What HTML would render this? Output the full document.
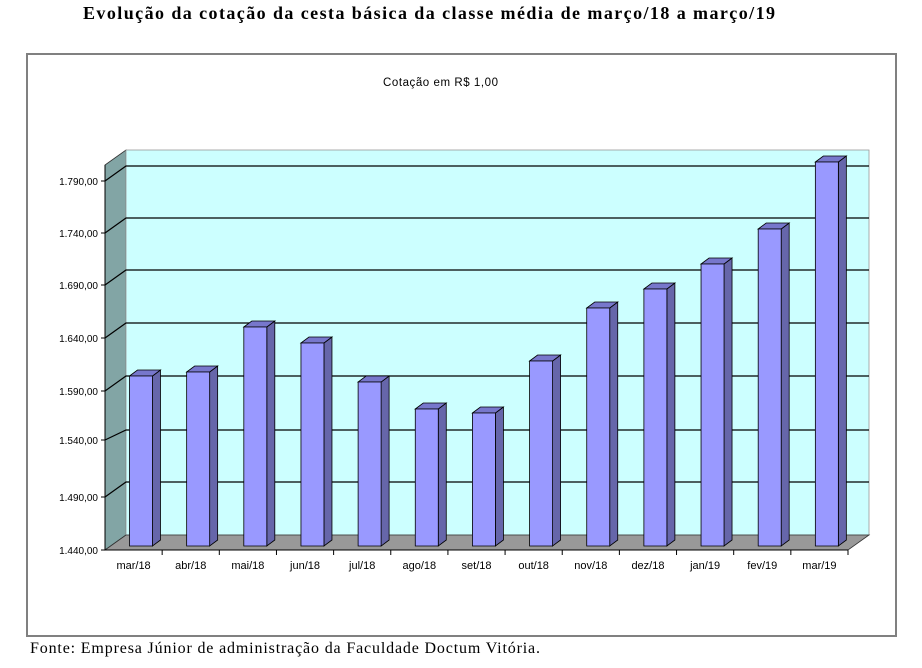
<!DOCTYPE html>
<html><head><meta charset="utf-8"><style>
body{margin:0;background:#fff;width:922px;height:663px;overflow:hidden}
</style></head><body>
<svg width="922" height="663" xmlns="http://www.w3.org/2000/svg">
<text x="83" y="19" textLength="692" lengthAdjust="spacing" font-family="Liberation Serif, serif" font-weight="bold" font-size="18">Evolução da cotação da cesta básica da classe média de março/18 a março/19</text>
<rect x="27" y="54" width="869" height="582" fill="#fff" stroke="#808080" stroke-width="2"/>
<text x="383" y="86" textLength="115" lengthAdjust="spacing" font-family="Liberation Sans, sans-serif" font-size="11.5">Cotação em R$ 1,00</text>
<polygon points="105,165 126,150 126,535 105,550" fill="#82a5a5" stroke="#333" stroke-width="0.8"/>
<rect x="126" y="150" width="743" height="385" fill="#ccffff" stroke="#999" stroke-width="0.8"/>
<polygon points="105,550 126,535 869,535 848,550" fill="#999" stroke="#333" stroke-width="0.8"/>
<g stroke="#000" stroke-width="1.2" fill="none">
<path d="M105,181 L126,166 H869"/>
<path d="M105,233 L126,218 H869"/>
<path d="M105,285 L126,270 H869"/>
<path d="M105,338 L126,323 H869"/>
<path d="M105,391 L126,376 H869"/>
<path d="M105,440 L126,430 H869"/>
<path d="M105,497 L126,482 H869"/>
</g>
<g stroke="#000" stroke-width="1">
<line x1="105" y1="165" x2="105" y2="550"/>
<line x1="105" y1="550" x2="848" y2="550"/>
<line x1="101" y1="181" x2="105" y2="181"/><line x1="101" y1="233" x2="105" y2="233"/>
<line x1="101" y1="285" x2="105" y2="285"/><line x1="101" y1="338" x2="105" y2="338"/>
<line x1="101" y1="391" x2="105" y2="391"/><line x1="101" y1="440" x2="105" y2="440"/>
<line x1="101" y1="497" x2="105" y2="497"/><line x1="101" y1="550" x2="105" y2="550"/>
</g>
<g font-family="Liberation Sans, sans-serif" font-size="10" text-anchor="end">
<text x="98" y="185">1.790,00</text><text x="98" y="237">1.740,00</text>
<text x="98" y="289">1.690,00</text><text x="98" y="342">1.640,00</text>
<text x="98" y="395">1.590,00</text><text x="98" y="444">1.540,00</text>
<text x="98" y="501">1.490,00</text><text x="98" y="554">1.440,00</text>
</g>
<g id="bars" stroke="#000" stroke-width="0.8"></g>
<g id="xl" font-family="Liberation Sans, sans-serif" font-size="11" text-anchor="middle"></g>
<g id="xt" stroke="#000" stroke-width="1"></g>
<text x="30" y="653" textLength="510" lengthAdjust="spacing" font-family="Liberation Serif, serif" font-size="16">Fonte: Empresa Júnior de administração da Faculdade Doctum Vitória.</text>
<script>
var tops=[376,372,327,343,382,409,413,361,308,289,264,229,162];
var labs=["mar/18","abr/18","mai/18","jun/18","jul/18","ago/18","set/18","out/18","nov/18","dez/18","jan/19","fev/19","mar/19"];
var ns="http://www.w3.org/2000/svg",b=document.getElementById("bars"),xl=document.getElementById("xl"),xt=document.getElementById("xt");
var w=743/13;
function poly(p,f){var e=document.createElementNS(ns,"polygon");e.setAttribute("points",p);e.setAttribute("fill",f);b.appendChild(e);}
for(var i=0;i<13;i++){
 var x=105+i*w+24.5,t=tops[i],bt=546,r=x+23;
 poly(r+","+t+" "+(r+8)+","+(t-6)+" "+(r+8)+","+(bt-6)+" "+r+","+bt,"#6666aa");
 poly(x+","+t+" "+(x+8)+","+(t-6)+" "+(r+8)+","+(t-6)+" "+r+","+t,"#7777cc");
 poly(x+","+t+" "+r+","+t+" "+r+","+bt+" "+x+","+bt,"#9999ff");
 var tx=document.createElementNS(ns,"text");tx.setAttribute("x",105+i*w+w/2);tx.setAttribute("y",569);tx.textContent=labs[i];xl.appendChild(tx);
 var l=document.createElementNS(ns,"line");var lx=105+(i+1)*w;l.setAttribute("x1",lx);l.setAttribute("x2",lx);l.setAttribute("y1",550);l.setAttribute("y2",555);xt.appendChild(l);
}
</script>
</svg>
</body></html>
